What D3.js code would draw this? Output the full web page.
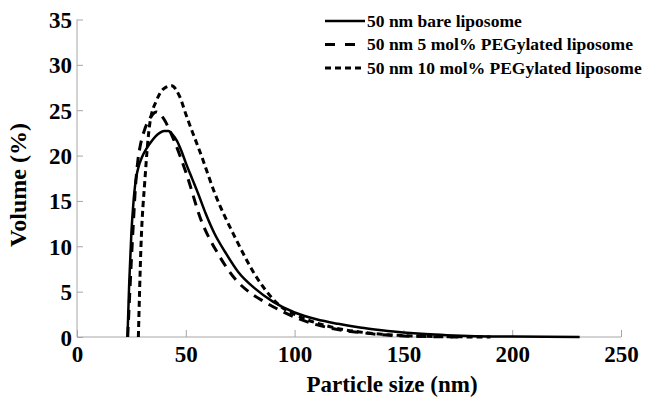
<!DOCTYPE html>
<html>
<head>
<meta charset="utf-8">
<script src="https://cdn.jsdelivr.net/npm/d3@7"></script>
<style>
  body { margin: 0; background: #fff; }
  svg { display: block; }
</style>
</head>
<body>
<div id="chart"></div>
<script>
// particle size (nm) and volume (%) for each liposome
var bareSize = [23.2, 24, 25, 26, 27, 28, 30, 32, 34, 36, 38, 40, 42, 44, 46, 48, 50, 53, 56, 59, 63, 68, 74, 82, 90, 100, 110, 120, 130, 140, 150, 160, 170, 180, 200, 231];
var bareVol  = [0, 6, 11.5, 15, 17.3, 18.5, 19.9, 20.8, 21.5, 22.1, 22.5, 22.7, 22.7, 22.3, 21.6, 20.5, 19.2, 17.4, 15.6, 13.7, 11.5, 9.4, 7.2, 5.3, 3.9, 2.7, 1.95, 1.45, 1.05, 0.75, 0.5, 0.32, 0.2, 0.12, 0.05, 0];

var peg5Size = [23.3, 25, 26, 27, 28, 29, 31, 33, 35, 36.5, 38, 40, 44, 50, 57, 65, 73, 80, 86, 102, 118, 130, 140, 150, 160, 175];
var peg5Vol  = [0, 8.5, 13, 17, 19.5, 21, 22.8, 23.9, 24.6, 24.8, 24.6, 24.0, 22.0, 18.2, 12.9, 9.1, 6.3, 4.8, 3.9, 2.0, 0.9, 0.5, 0.25, 0.12, 0.05, 0];

var peg10Size = [28.2, 29.4, 31.2, 33.5, 36.6, 40, 43.5, 47, 50.4, 57.3, 63.4, 72.6, 83.3, 94, 100, 118.6, 130, 140, 150, 160, 175, 190];
var peg10Vol  = [0, 10, 17.3, 23.6, 26.1, 27.4, 27.7, 26.6, 24.3, 19.9, 15.8, 11.0, 6.3, 3.3, 2.5, 1.0, 0.55, 0.3, 0.15, 0.08, 0.02, 0];

var xTicks = [0, 50, 100, 150, 200, 250];
var yTicks = [0, 5, 10, 15, 20, 25, 30, 35];

var seriesNames = ["50 nm bare liposome", "50 nm 5 mol% PEGylated liposome", "50 nm 10 mol% PEGylated liposome"];
var seriesDash = [null, "10,7", "6,4"];

var width = 646, height = 397;
var serif = '"Liberation Serif", "Times New Roman", "DejaVu Serif", serif';

var svg = d3.select('#chart').append('svg')
  .attr('width', width)
  .attr('height', height)
  .attr('font-family', serif)
  .attr('font-weight', 'bold');

var x = d3.scaleLinear().domain([0, 250]).range([77, 621]);
var y = d3.scaleLinear().domain([0, 35]).range([337, 19.5]);

// axes
var xAxis = svg.append('g')
  .attr('transform', 'translate(0,' + y(0) + ')')
  .call(d3.axisBottom(x).tickValues(xTicks).tickSize(-7).tickPadding(14));
var yAxis = svg.append('g')
  .attr('transform', 'translate(' + x(0) + ',0)')
  .call(d3.axisLeft(y).tickValues(yTicks).tickSize(-6).tickPadding(5));

[xAxis, yAxis].forEach(function(a){
  a.attr('font-family', serif).attr('font-size', 23);
  a.selectAll('path, line').attr('stroke', '#a6a6a6').attr('stroke-width', 1);
  a.selectAll('text').attr('fill', '#000');
});
xAxis.select('.domain').attr('d', 'M' + x(0) + ',0H' + x(250));
yAxis.select('.domain').attr('d', 'M0,' + y(0) + 'V' + y(35));
xAxis.selectAll('text').attr('y', 9).attr('dy', '0.71em');
yAxis.selectAll('text').attr('x', -5).attr('dy', '0.35em');

// axis titles
svg.append('text')
  .attr('x', 392)
  .attr('y', 392)
  .attr('text-anchor', 'middle')
  .attr('font-size', 23)
  .text('Particle size (nm)');

svg.append('text')
  .attr('transform', 'translate(26,185) rotate(-90)')
  .attr('text-anchor', 'middle')
  .attr('font-size', 24)
  .text('Volume (%)');

// curves
var line = d3.line()
  .x(function(d){ return x(d[0]); })
  .y(function(d){ return y(d[1]); })
  .curve(d3.curveMonotoneX);

var series = [
  d3.zip(bareSize, bareVol),
  d3.zip(peg5Size, peg5Vol),
  d3.zip(peg10Size, peg10Vol)
];

svg.selectAll('.curve')
  .data(series)
.enter().append('path')
  .attr('class', 'curve')
  .attr('fill', 'none')
  .attr('stroke', '#000')
  .attr('stroke-width', function(d, i){ return i === 0 ? 2.5 : 3; })
  .attr('stroke-dasharray', function(d, i){ return seriesDash[i]; })
  .attr('d', line);

// legend
var legend = svg.selectAll('.legend')
  .data(seriesNames)
.enter().append('g')
  .attr('class', 'legend')
  .attr('transform', function(d, i){ return 'translate(0,' + (21 + i * 23.5) + ')'; });

legend.append('line')
  .attr('x1', 325)
  .attr('x2', 365)
  .attr('stroke', '#000')
  .attr('stroke-width', function(d, i){ return i === 0 ? 2.5 : 3; })
  .attr('stroke-dasharray', function(d, i){ return i === 1 ? '10,10' : seriesDash[i]; });

legend.append('text')
  .attr('x', 367)
  .attr('dy', '0.32em')
  .attr('font-size', 17.5)
  .text(function(d){ return d; });
</script>
</body>
</html>
